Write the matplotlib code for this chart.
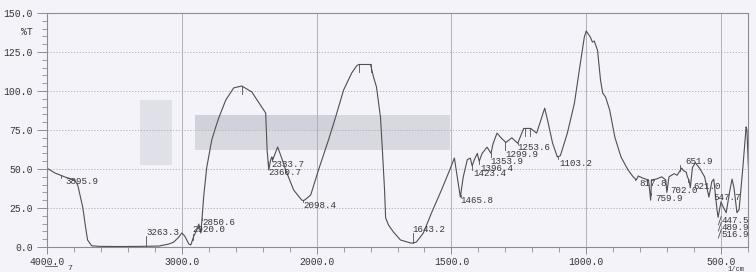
import numpy as np
import matplotlib
matplotlib.use("Agg")
import matplotlib.pyplot as plt
from matplotlib.patches import Rectangle
from matplotlib.ticker import FixedLocator, FormatStrFormatter

# spectrum (wavenumber 1/cm, %T)
wn = [3990, 3941, 3904, 3868, 3794, 3772, 3735, 3713, 3699, 3669, 3610, 3450, 3316,
      3170, 3096, 3059, 3022, 3000, 2978, 2948, 2933, 2911, 2889, 2874, 2859, 2852,
      2837, 2815, 2778, 2748, 2726, 2674, 2615, 2555, 2481, 2407, 2378, 2367, 2363,
      2355, 2341, 2333, 2326, 2289, 2259, 2230, 2170, 2111, 2098, 2089, 2044, 1993,
      1956, 1930, 1900, 1870, 1852, 1844, 1800, 1789, 1778, 1763, 1756, 1748, 1744,
      1733, 1715, 1689, 1652, 1643, 1630, 1604, 1574, 1537, 1511, 1489, 1482, 1467,
      1456, 1441, 1430, 1423, 1415, 1404, 1397, 1386, 1368, 1353, 1346, 1331, 1316,
      1298, 1276, 1254, 1232, 1206, 1184, 1154, 1143, 1125, 1107, 1096, 1070, 1044,
      1026, 1007, 1000, 985, 977, 970, 958, 947, 939, 928, 913, 894, 871, 845, 826,
      814, 807, 788, 769, 761, 758, 739, 720, 705, 701, 693, 674, 663, 652, 646, 640,
      629, 625, 619, 614, 606, 595, 580, 561, 545, 534, 527, 515, 511, 500, 493, 481,
      467, 459, 452, 441, 433, 419, 407, 404, 397]
trans = [50.0, 47.4, 46.2, 44.9, 42.9, 39.7, 25.6, 12.2, 4.5, 0.8, 0.4, 0.3, 0.4,
         0.6, 1.9, 3.2, 6.4, 9.0, 7.0, 1.9, 1.3, 7.0, 10.9, 14.7, 9.0, 16.0,
         33.0, 51.0, 68.6, 77.0, 82.7, 94.2, 102.0, 103.2, 99.4, 89.7, 85.9, 62.0, 57.7,
         49.4, 55.8, 57.7, 55.8, 64.1, 57.0, 49.4, 36.5, 30.1, 29.8, 30.1, 33.3, 49.4,
         68.6, 83.0, 100.6, 111.5, 116.0, 117.0, 117.0, 109.0, 102.6, 83.0, 62.0, 36.5, 18.6,
         14.0, 9.6, 4.5, 2.6, 2.5, 3.2, 9.0, 21.8, 36.5, 47.4, 57.0, 49.0, 32.0,
         45.0, 56.0, 57.0, 52.0, 56.0, 60.0, 55.0, 60.0, 64.0, 60.0, 66.0, 73.0, 70.0,
         67.0, 70.0, 66.5, 76.0, 76.0, 73.0, 89.0, 81.0, 66.7, 57.7, 58.5, 73.0, 92.0,
         113.0, 134.6, 138.5, 134.6, 131.4, 132.0, 126.0, 107.0, 98.7, 96.0, 87.8, 70.5, 57.7, 49.4, 45.0,
         43.0, 45.5, 44.0, 43.0, 30.0, 43.0, 43.6, 45.0, 43.0, 35.0, 45.0, 47.0, 46.0, 49.0, 50.6, 49.0,
         48.0, 45.0, 43.0, 38.0, 51.0, 54.0, 50.6, 45.0, 32.0, 42.0, 43.5, 24.0, 19.0, 29.0, 26.0, 22.0,
         36.5, 43.5, 38.0, 22.0, 24.0, 51.0, 77.0, 75.0, 45.0]

# peak table: position, label centre (%T), label shift (px)
peak_wn = [3895.9, 3263.3, 2920.0, 2850.6, 2360.7, 2333.7, 2098.4, 1643.2, 1465.8,
           1423.4, 1396.4, 1353.9, 1299.9, 1253.6, 1103.2, 817.8, 759.9, 702.0,
           651.9, 621.0, 547.7]
peak_txt = ["3895.9", "3263.3", "2920.0", "2850.6", "2360.7", "2333.7", "2098.4",
            "1643.2", "1465.8", "1423.4", "1396.4", "1353.9", "1299.9", "1253.6",
            "1103.2", "817.8", "759.9", "702.0", "651.9", "621.0", "547.7"]
label_y = [41.7, 9.6, 10.9, 16.0, 48.0, 52.6, 26.3, 11.5, 29.5, 46.8, 50.6, 55.0,
           59.6, 63.5, 53.8, 40.4, 30.8, 35.9, 55.0, 39.0, 32.0]
label_dx = [4, 0, 0, 0, 0, 0, 0, 0, 0, 1, 1, 0, 0, 0, 1, 4, 4, 4, 5, 5, 5]

# the stacked group at the right end
group_wn = [516.9, 489.9, 447.5]
group_y = [8.3, 12.8, 16.7]

# plateau / unlabelled markers
mark_wn = [2555, 1844, 1800, 1228, 1210]

ink = "#383838"
paper = "#f3f3f9"
font = ["Liberation Mono", "DejaVu Sans Mono"]
plt.rcParams["font.family"] = font
fs = 6.6


def fwd(x):
    x = np.asarray(x, dtype=float)
    return np.where(x >= 2000, x, 2 * x - 2000)


def inv(u):
    u = np.asarray(u, dtype=float)
    return np.where(u >= 2000, u, (u + 2000) / 2)


fig = plt.figure(figsize=(7.56, 2.72), dpi=100, facecolor=paper)
ax = fig.add_axes([47 / 756, 25 / 272, 701 / 756, 234 / 272])
ax.set_facecolor("none")
ax.set_xscale("function", functions=(fwd, inv))
ax.set_xlim(4000, 400)
ax.set_ylim(0, 150)

# scanner smudges
ax.add_patch(Rectangle((0.133, 0.35), 0.045, 0.28, transform=ax.transAxes,
                       color="#dcdce6", alpha=0.8, lw=0, zorder=0))
ax.add_patch(Rectangle((0.211, 0.415), 0.364, 0.15, transform=ax.transAxes,
                       color="#d2d2dc", alpha=0.8, lw=0, zorder=0))
ax.add_patch(Rectangle((0.211, 0.50), 0.20, 0.065, transform=ax.transAxes,
                       color="#c8c8d2", alpha=0.4, lw=0, zorder=0))

# grid
for g in [3000, 2000, 1500, 1000, 500]:
    ax.axvline(g, color="#b0b0b8", lw=0.7, zorder=1)
for g in [25, 50, 75, 100, 125]:
    ax.axhline(g, color="#ababb3", lw=0.6, ls=(0, (1.5, 2)), zorder=1)

ax.plot(wn, trans, color="#505050", lw=0.8, zorder=3, clip_on=True)

# peak markers and labels
for p, t, ly, dx in zip(peak_wn, peak_txt, label_y, label_dx):
    cy = np.interp(p, wn[::-1], trans[::-1])
    end = ly + 2.5 if ly < cy else ly - 2.5
    ax.plot([p, p], [cy, end], color="#505050", lw=0.6, zorder=3)
    ax.annotate(t, (p, ly), xytext=(dx * 0.72, 0), textcoords="offset points",
                ha="left", va="center", fontsize=fs, color=ink, zorder=4)

for p, ly in zip(group_wn, group_y):
    ax.annotate(f"{p:.1f}", (507, ly), xytext=(1.5, 0), textcoords="offset points",
                ha="left", va="center", fontsize=fs, color=ink, zorder=4)
    ax.plot([510, 499], [ly - 2.5, ly + 3.0], color="#505050", lw=0.6, zorder=3)

for p in mark_wn:
    cy = np.interp(p, wn[::-1], trans[::-1])
    ax.plot([p, p], [cy, cy - 5], color="#505050", lw=0.6, zorder=3)

# axes styling
for s in ax.spines.values():
    s.set_color("#8c8c94")
    s.set_linewidth(0.8)

ax.xaxis.set_major_locator(FixedLocator([4000, 3000, 2000, 1500, 1000, 500]))
minor_x = list(range(3800, 2000, -200)) + [v for v in range(1900, 399, -100) if v % 500]
ax.xaxis.set_minor_locator(FixedLocator(minor_x))
ax.xaxis.set_major_formatter(FormatStrFormatter("%.1f"))
ax.yaxis.set_major_locator(FixedLocator([0, 25, 50, 75, 100, 125, 150]))
ax.yaxis.set_minor_locator(FixedLocator([v for v in range(5, 150, 5) if v % 25]))
ax.yaxis.set_major_formatter(FormatStrFormatter("%.1f"))

ax.tick_params(axis="x", which="major", length=5, width=0.7, color="#8c8c94",
               labelsize=fs + 0.4, labelcolor=ink, pad=2.5)
ax.tick_params(axis="x", which="minor", length=3.5, width=0.6, color="#8c8c94")
ax.tick_params(axis="y", which="major", length=7, width=0.7, color="#8c8c94",
               labelsize=fs + 0.4, labelcolor=ink, pad=3)
ax.tick_params(axis="y", which="minor", length=3.5, width=0.6, color="#8c8c94")

fig.text(33 / 756, 1 - 32 / 272, "%T", ha="right", va="center", fontsize=fs + 0.4, color=ink)
fig.text(736 / 756, 1 - 266 / 272, "1/cm", ha="center", va="top", fontsize=5, color=ink)
fig.text(70 / 756, 1 - 268 / 272, "7", ha="center", va="center", fontsize=6, color=ink)
fig.add_artist(plt.Line2D([45 / 756, 57 / 756], [1 - 266 / 272, 1 - 266 / 272],
                          color="#707070", lw=0.7))

fig.savefig("out.png", dpi=100, facecolor=paper)
